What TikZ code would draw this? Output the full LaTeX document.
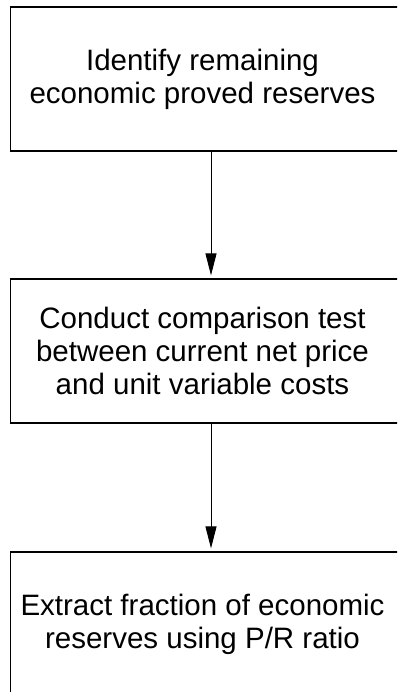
\documentclass[tikz,border=0pt]{standalone}
\usepackage{fontspec}
\setmainfont{Liberation Sans}
\usetikzlibrary{arrows.meta}
\tikzset{
  stepbox/.style={draw=black, line width=1.2pt, minimum width=401pt, minimum height=144pt, inner sep=0pt},
  steptext/.style={align=center, font=\fontsize{29.5}{33}\selectfont, inner sep=0pt},
  flowarrow/.style={line width=1pt, -{Triangle[length=22pt,width=11pt]}, shorten >=3pt}
}
\begin{document}
\begin{tikzpicture}[x=1pt,y=-1pt]
  \useasboundingbox (0,0) rectangle (397,692);
  \clip (0,0) rectangle (397,692);
  % process boxes
  \node[stepbox] (b1) at (211,79) {};
  \node[stepbox] (b2) at (211,351) {};
  \node[stepbox] (b3) at (211,624) {};
  % box texts
  \node[steptext] (t1) at ([xshift=-8.5pt]b1.center) {Identify remaining\\economic proved reserves};
  \node[steptext] (t2) at ([xshift=-8.5pt]b2.center) {Conduct comparison test\\between current net price\\and unit variable costs};
  \node[steptext] (t3) at ([xshift=-8.5pt]b3.center) {Extract fraction of economic\\reserves using P/R ratio};
  % connectors
  \draw[flowarrow] (b1) -- (b2);
  \draw[flowarrow] (b2) -- (b3);
\end{tikzpicture}
\end{document}
